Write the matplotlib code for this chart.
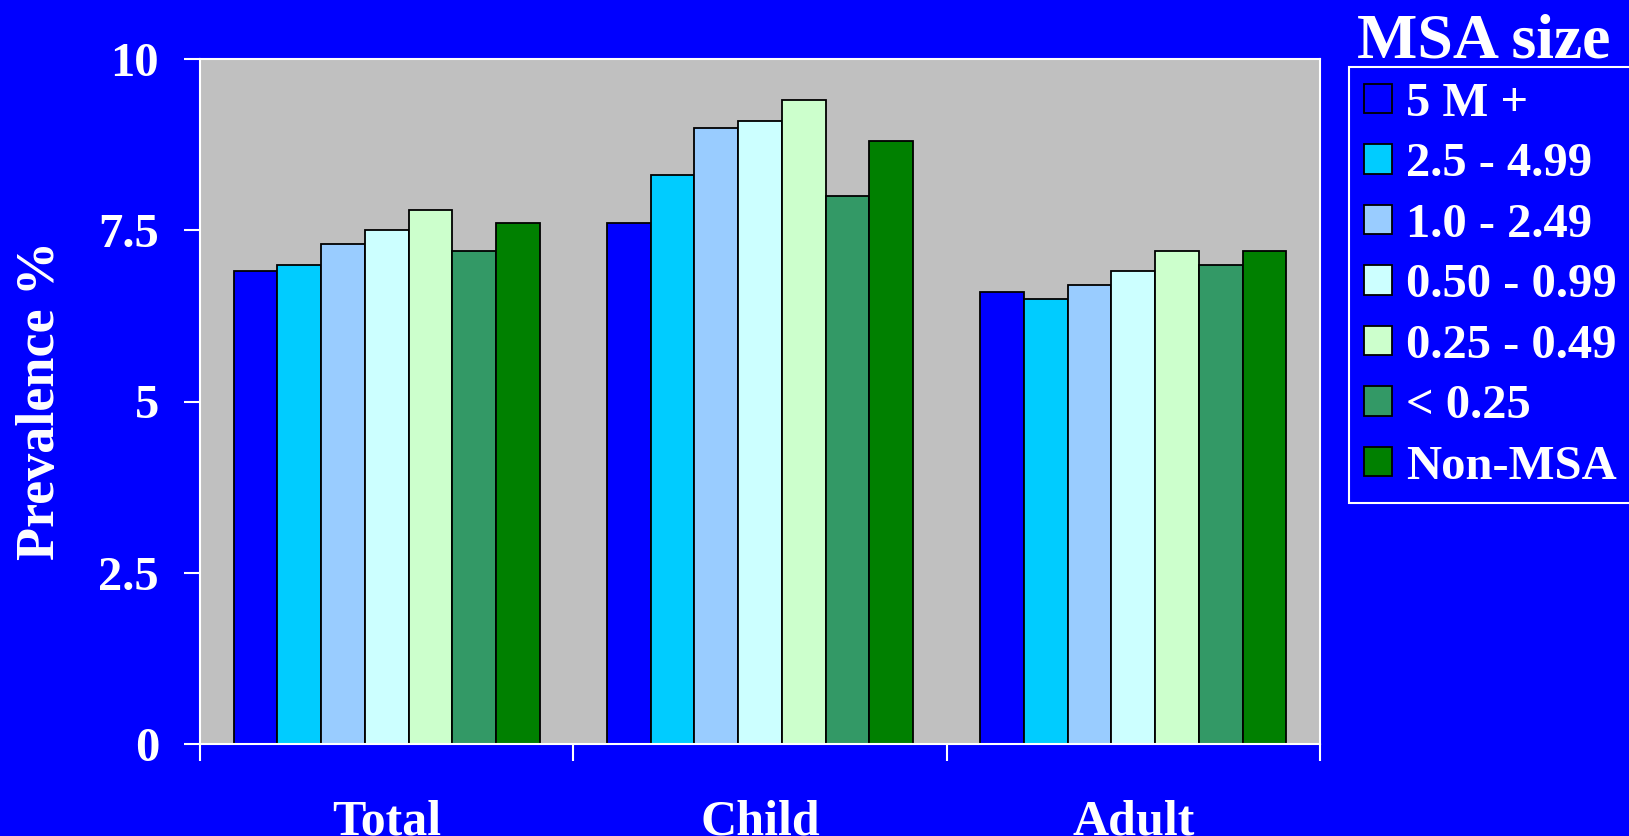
import numpy as np
import matplotlib
matplotlib.use("Agg")
import matplotlib.pyplot as plt

# data
groups = ["Total", "Child", "Adult"]
sizes = ["5 M +", "2.5 - 4.99", "1.0 - 2.49", "0.50 - 0.99", "0.25 - 0.49", "< 0.25", "Non-MSA"]
values = {
    "5 M +": [6.9, 7.6, 6.6],
    "2.5 - 4.99": [7.0, 8.3, 6.5],
    "1.0 - 2.49": [7.3, 9.0, 6.7],
    "0.50 - 0.99": [7.5, 9.1, 6.9],
    "0.25 - 0.49": [7.8, 9.4, 7.2],
    "< 0.25": [7.2, 8.0, 7.0],
    "Non-MSA": [7.6, 8.8, 7.2],
}
colors = ["#0000FF", "#00CCFF", "#99CCFF", "#CCFFFF", "#CCFFCC", "#339966", "#008000"]
yticks = [0, 2.5, 5, 7.5, 10]
ytick_labels = ["0", "2.5", "5", "7.5", "10"]

BG = "#0000FF"
plt.rcParams["font.family"] = ["Liberation Serif", "DejaVu Serif"]
plt.rcParams["font.weight"] = "bold"

fig = plt.figure(figsize=(16.29, 8.36), dpi=100, facecolor=BG)
ax = fig.add_axes([200 / 1629, 1 - 744 / 836, 1120 / 1629, (744 - 59) / 836])
ax.set_facecolor("#C0C0C0")

x = np.arange(len(groups))
width = 0.117
for i, (name, color) in enumerate(zip(sizes, colors)):
    offset = (i - (len(sizes) - 1) / 2) * width
    ax.bar(x + offset, values[name], width, color=color, edgecolor="black",
           linewidth=1.3, label=name, zorder=2)

ax.set_xlim(-0.5, 2.5)
ax.set_ylim(0, 10)
for s in ax.spines.values():
    s.set_color("white")
    s.set_linewidth(1.5)

ax.set_yticks(yticks)
ax.set_yticklabels(ytick_labels)
ax.tick_params(axis="y", colors="white", length=11.5, width=1.5, pad=18,
               labelsize=35)
ax.set_xticks([-0.5, 0.5, 1.5, 2.5])
ax.set_xticklabels([])
ax.set_xticks(x, minor=True)
ax.set_xticklabels(groups, minor=True)
ax.tick_params(axis="x", which="major", colors="white", length=12, width=1.5)
ax.tick_params(axis="x", which="minor", length=0, pad=40, labelsize=36,
               labelcolor="white")

fig.text(41 / 1629, 1 - 400 / 836, "Prevalence %", rotation=90, ha="center",
         va="center", color="white", fontsize=39, fontweight="bold")

fig.text(1484 / 1629, 1 - 57 / 836, "MSA size", ha="center", va="baseline",
         color="white", fontsize=46, fontweight="bold")

leg = fig.legend(loc="upper left", bbox_to_anchor=(1349 / 1629, 1 - 67 / 836),
                 bbox_transform=fig.transFigure, fontsize=35, frameon=True,
                 fancybox=False, facecolor=BG, edgecolor="white",
                 handlelength=0.58, handleheight=0.56, handletextpad=0.3,
                 labelspacing=0.34, borderpad=0.3, borderaxespad=0)
leg.get_frame().set_linewidth(1.5)
leg.get_frame().set_alpha(1)
for t in leg.get_texts():
    t.set_color("white")

fig.savefig("out.png", dpi=100, facecolor=BG)
